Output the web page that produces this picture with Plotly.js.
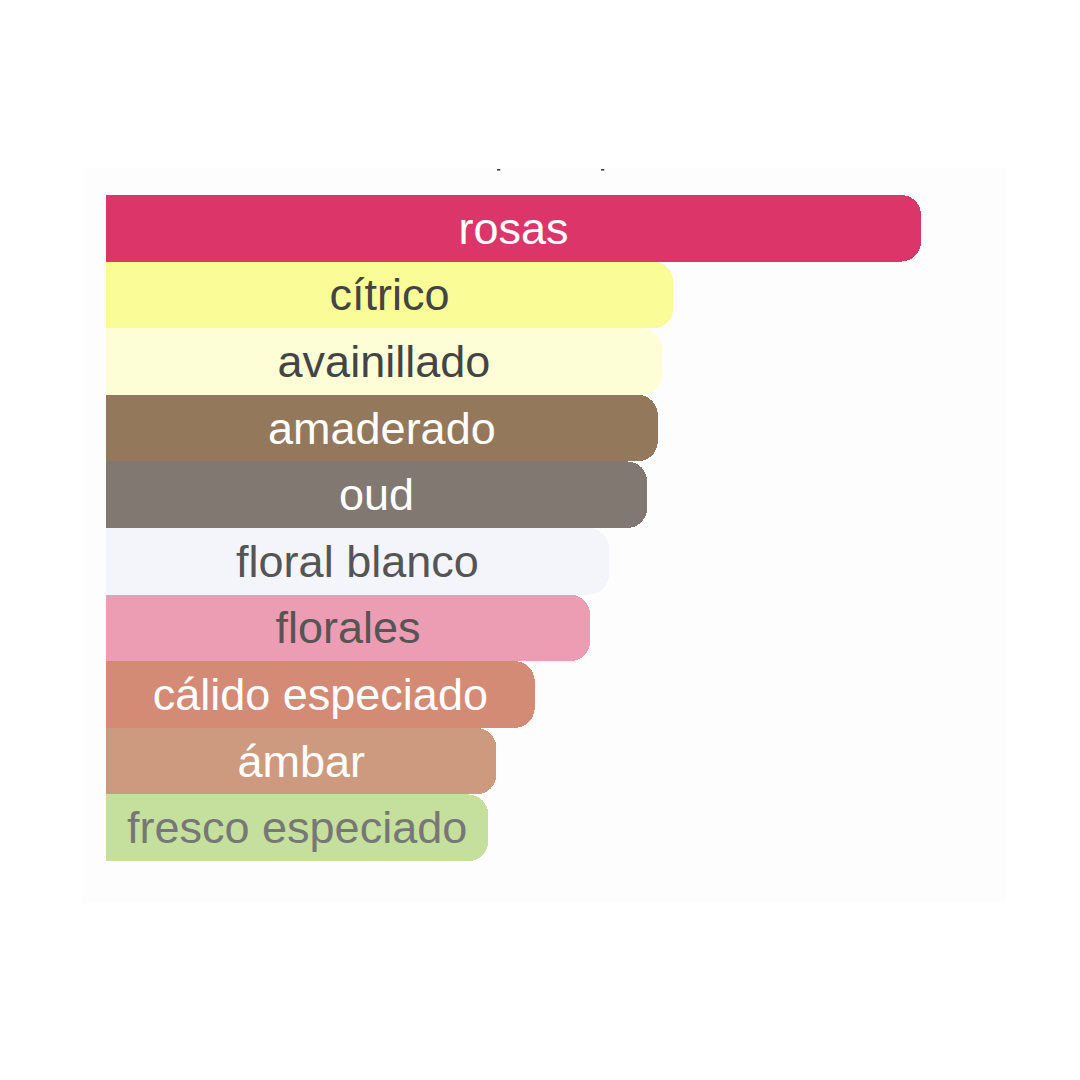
<!DOCTYPE html>
<html>
<head>
<meta charset="utf-8">
<script src="https://cdn.plot.ly/plotly-3.0.1.min.js"></script>
<style>
  html, body { margin: 0; padding: 0; background: #ffffff; }
  #chart { width: 1080px; height: 1080px; }
</style>
</head>
<body>
<div id="chart"></div>
<script>
// accords, top to bottom
var accords = ['rosas', 'cítrico', 'avainillado', 'amaderado', 'oud',
               'floral blanco', 'florales', 'cálido especiado', 'ámbar', 'fresco especiado'];
// relative strength, rosas = 100
var strength = [100, 69.6, 68.2, 67.7, 66.4, 61.7, 59.4, 52.6, 47.9, 46.9];

// bar fill and label colours
var barColors = ['#dc3569', '#f9fc97', '#fdfed6', '#94785b', '#827872',
                 '#f3f5fa', '#ec9cb3', '#d38b76', '#cd9a80', '#c5e09c'];
var labelColors = ['#ffffff', '#444444', '#444444', '#ffffff', '#ffffff',
                   '#555555', '#555555', '#ffffff', '#ffffff', '#777777'];

var data = [{
    type: 'bar',
    orientation: 'h',
    y: accords,
    x: strength,
    text: accords,
    textposition: 'inside',
    insidetextanchor: 'middle',
    textangle: 0,
    constraintext: 'none',
    textfont: {family: 'Liberation Sans, Arial, sans-serif', size: 45, color: labelColors},
    marker: {color: barColors, line: {width: 0}},
    hoverinfo: 'y+x',
    showlegend: false
}];

// two small stray marks just under the top of the plot area
function dash(px) {
    var x0 = (px - 83) / 924;
    return {type: 'line', xref: 'paper', yref: 'paper',
            x0: x0, x1: x0 + 0.0035, y0: 0.9975, y1: 0.9975,
            line: {color: '#333333', width: 1.5}};
}

var layout = {
    width: 1080,
    height: 1080,
    margin: {l: 83, r: 73, t: 168, b: 177, pad: 0},
    paper_bgcolor: '#ffffff',
    plot_bgcolor: '#fdfdfd',
    bargap: 0,
    barcornerradius: 20,
    font: {family: 'Liberation Sans, Arial, sans-serif'},
    xaxis: {range: [-2.82, 110.55], showgrid: false, zeroline: false,
            showticklabels: false, ticks: '', showline: false, fixedrange: true},
    yaxis: {type: 'category', range: [10.13, -0.905], showgrid: false, zeroline: false,
            showticklabels: false, ticks: '', showline: false, fixedrange: true},
    shapes: [dash(497), dash(601)]
};

Plotly.newPlot('chart', data, layout, {displayModeBar: false, staticPlot: true});
</script>
</body>
</html>
